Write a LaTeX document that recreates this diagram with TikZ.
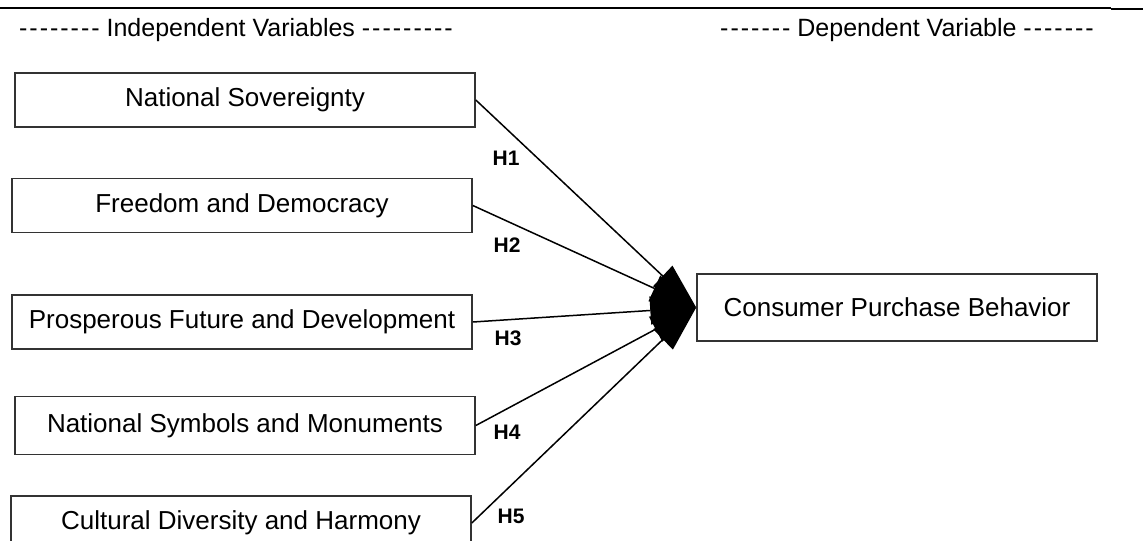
\documentclass[tikz,border=0pt]{standalone}
\usepackage{fontspec}
\newfontfamily\arialfont{Liberation Sans}
\newfontfamily\dashfont{Liberation Sans}[LetterSpace=8]
\usetikzlibrary{arrows.meta}

\tikzset{
	varbox/.style={draw=black!80,line width=0.8pt,rectangle,minimum width=230pt,minimum height=27pt,inner sep=1pt,font=\arialfont\fontsize{13}{15}\selectfont},
	hyplabel/.style={font=\arialfont\bfseries\fontsize{10.5}{12}\selectfont},
	header/.style={font=\arialfont\fontsize{12.5}{14}\selectfont},
	hypline/.style={draw=black,line width=0.75pt,-{Triangle[length=23pt,width=14pt]}}
}

\begin{document}
\begin{tikzpicture}[x=0.5pt,y=-0.5pt]
	\useasboundingbox (0,0) rectangle (1143,540);
	\clip (0,0) rectangle (1143,540);
	
	\draw[line width=0.6pt] (0,8) -- (1111,8);
	\draw[line width=1.4pt] (1111,9) -- (1143,9);
	
	\node[header] (indep) at (236,30) {{\dashfont --------}\ Independent Variables {\dashfont ---------}};
	\node[header] (dep) at (907,30) {{\dashfont -------}\ Dependent Variable {\dashfont -------}};
	
	\node[varbox] (sov) at (245,100) {National Sovereignty};
	\node[varbox] (free) at (242,205.5) {Freedom and Democracy};
	\node[varbox] (pros) at (242,322) {Prosperous Future and Development};
	\node[varbox,minimum height=29pt] (sym) at (245,425.5) {National Symbols and Monuments};
	\node[varbox] (cult) at (241,523) {Cultural Diversity and Harmony};
	
	\node[varbox,minimum width=200pt,minimum height=33.5pt] (cpb) at (897,307.5) {Consumer Purchase Behavior};
	
	\draw[hypline] (sov.east) -- (cpb.west);
	\draw[hypline] (free.east) -- (cpb.west);
	\draw[hypline] (pros.east) -- (cpb.west);
	\draw[hypline] (sym.east) -- (cpb.west);
	\draw[hypline] (cult.east) -- (cpb.west);
	
	\node[hyplabel] (h1) at (506,158) {H1};
	\node[hyplabel] (h2) at (507,245) {H2};
	\node[hyplabel] (h3) at (508,338) {H3};
	\node[hyplabel] (h4) at (507,432) {H4};
	\node[hyplabel] (h5) at (511,516) {H5};
\end{tikzpicture}
\end{document}
